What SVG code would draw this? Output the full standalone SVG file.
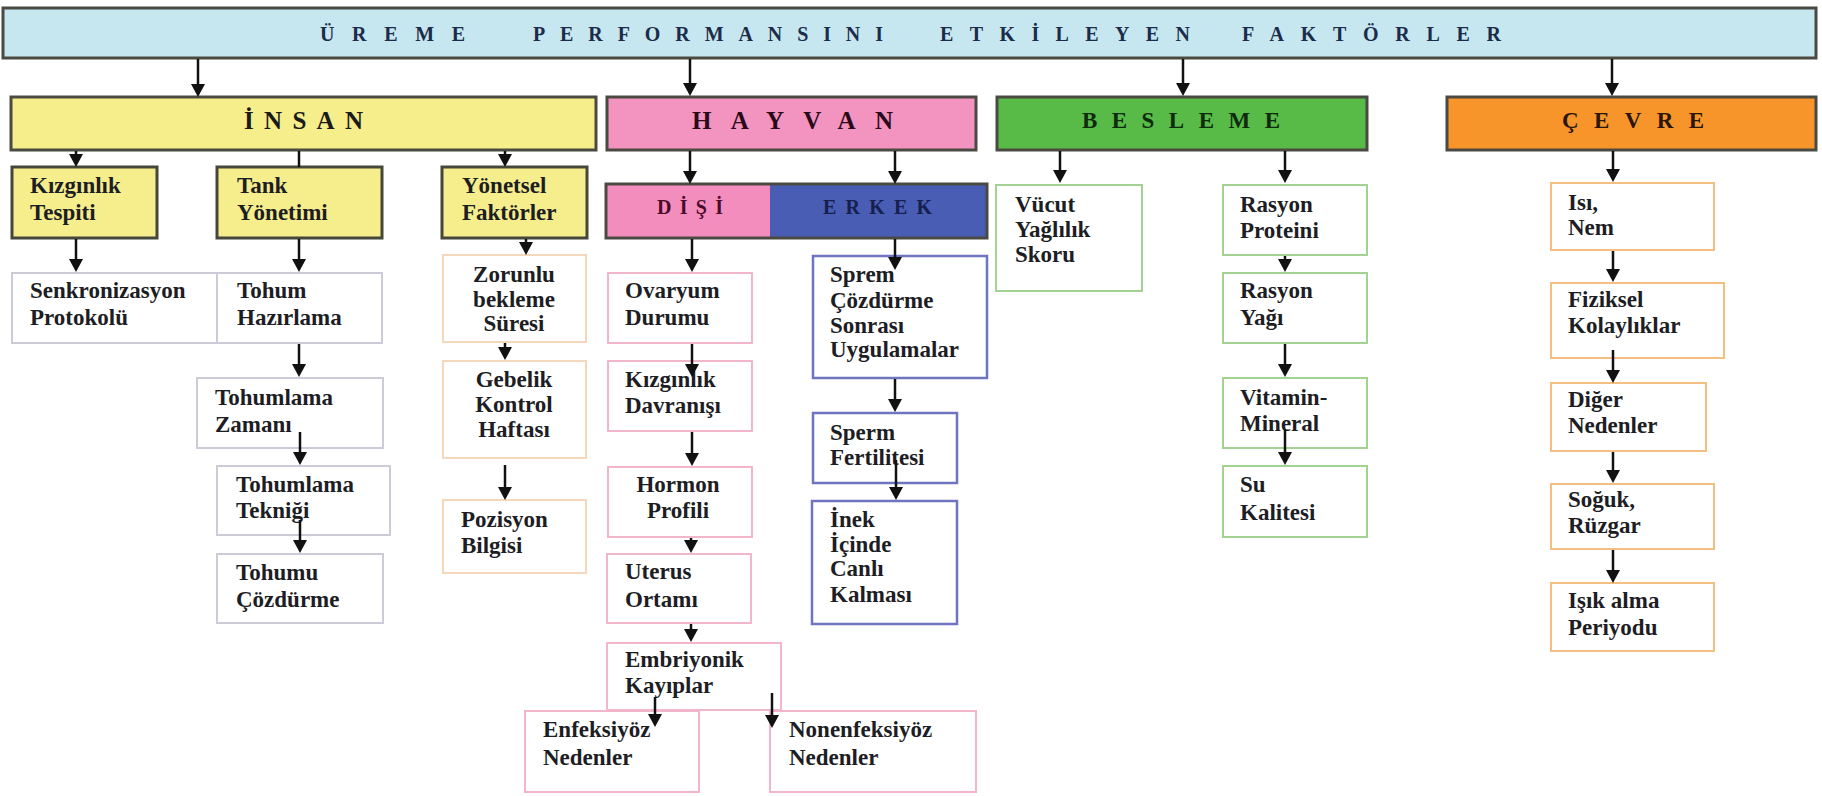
<svg xmlns="http://www.w3.org/2000/svg" width="1822" height="796" viewBox="0 0 1822 796">
<defs>
<marker id="ah" markerUnits="userSpaceOnUse" markerWidth="16" markerHeight="16" refX="9" refY="7" orient="auto">
<path d="M0,0 L13,7 L0,14 z" fill="#111"/>
</marker>
<style>
text{font-family:"Liberation Serif","Times New Roman",serif;font-weight:bold;fill:#1d1d24;}
.t{font-size:23px;}
.hd{font-size:25px;fill:#1a1a1a;}
.tt{font-size:20px;fill:#1c2b4a;}
.head{stroke:#4a4a42;stroke-width:3;}
.sub{fill:#F6EE8C;stroke:#46463a;stroke-width:3;}
.g{fill:#fff;stroke:#CFCAD8;stroke-width:2;}
.p{fill:#fff;stroke:#F5D8BC;stroke-width:2;}
.k{fill:#fff;stroke:#F2B6CA;stroke-width:2;}
.b{fill:#fff;stroke:#6F74BE;stroke-width:2.5;}
.gr{fill:#fff;stroke:#A2D393;stroke-width:2;}
.o{fill:#fff;stroke:#F4BF80;stroke-width:2;}
.c{stroke:#111;stroke-width:2.5;fill:none;}
.ca{stroke:#111;stroke-width:2.5;fill:none;marker-end:url(#ah);}
</style>
</defs>
<rect width="1822" height="796" fill="#fff"/>

<g id="title">
<rect x="3" y="8" width="1813" height="50" fill="#C6E7EF" class="head"/>
<text class="tt" x="320" y="41" textLength="145" lengthAdjust="spacing">ÜREME</text>
<text class="tt" x="533" y="41" textLength="350" lengthAdjust="spacing">PERFORMANSINI</text>
<text class="tt" x="940" y="41" textLength="250" lengthAdjust="spacing">ETKİLEYEN</text>
<text class="tt" x="1242" y="41" textLength="259" lengthAdjust="spacing">FAKTÖRLER</text>
</g>

<g id="insan">
<rect x="11" y="97" width="585" height="53" fill="#F6EE8A" class="head"/>
<text class="hd" x="244" y="129" textLength="119" lengthAdjust="spacing">İNSAN</text>
</g>
<g id="hayvan">
<rect x="607" y="97" width="369" height="53" fill="#F393BF" class="head"/>
<text class="hd" x="692" y="129" textLength="201" lengthAdjust="spacing" style="fill:#2a0a18">HAYVAN</text>
</g>
<g id="besleme">
<rect x="997" y="97" width="370" height="53" fill="#58BA47" class="head"/>
<text class="hd" x="1082" y="128" textLength="198" lengthAdjust="spacing" style="font-size:23px;fill:#0f2a0c">BESLEME</text>
</g>
<g id="cevre">
<rect x="1447" y="97" width="369" height="53" fill="#F7952A" class="head"/>
<text class="hd" x="1562" y="128" textLength="142" lengthAdjust="spacing" style="font-size:23px;fill:#2a1506">ÇEVRE</text>
</g>

<g id="kizginlik-tespiti">
<rect x="12" y="167" width="145" height="71" class="sub"/>
<text class="t" x="30" y="193">Kızgınlık</text><text class="t" x="30" y="220">Tespiti</text>
</g>
<g id="tank-yonetimi">
<rect x="217" y="167" width="165" height="71" class="sub"/>
<text class="t" x="237" y="193">Tank</text><text class="t" x="237" y="220">Yönetimi</text>
</g>
<g id="yonetsel-faktorler">
<rect x="442" y="167" width="145" height="71" class="sub"/>
<text class="t" x="462" y="193">Yönetsel</text><text class="t" x="462" y="220">Faktörler</text>
</g>

<g id="senkronizasyon">
<rect x="12" y="273" width="205" height="70" class="g"/>
<text class="t" x="30" y="298">Senkronizasyon</text><text class="t" x="30" y="325">Protokolü</text>
</g>
<g id="tohum-hazirlama">
<rect x="217" y="273" width="165" height="70" class="g"/>
<text class="t" x="237" y="298">Tohum</text><text class="t" x="237" y="325">Hazırlama</text>
</g>
<g id="tohumlama-zamani">
<rect x="197" y="378" width="186" height="70" class="g"/>
<text class="t" x="215" y="405">Tohumlama</text><text class="t" x="215" y="432">Zamanı</text>
</g>
<g id="tohumlama-teknigi">
<rect x="217" y="466" width="173" height="69" class="g"/>
<text class="t" x="236" y="492">Tohumlama</text><text class="t" x="236" y="518">Tekniği</text>
</g>
<g id="tohumu-cozdurme">
<rect x="217" y="554" width="166" height="69" class="g"/>
<text class="t" x="236" y="580">Tohumu</text><text class="t" x="236" y="607">Çözdürme</text>
</g>

<g id="zorunlu-bekleme">
<rect x="443" y="255" width="143" height="87" class="p"/>
<text class="t" x="514" y="282" text-anchor="middle">Zorunlu</text>
<text class="t" x="514" y="307" text-anchor="middle">bekleme</text>
<text class="t" x="514" y="331" text-anchor="middle">Süresi</text>
</g>
<g id="gebelik-kontrol">
<rect x="443" y="361" width="143" height="97" class="p"/>
<text class="t" x="514" y="387" text-anchor="middle">Gebelik</text>
<text class="t" x="514" y="412" text-anchor="middle">Kontrol</text>
<text class="t" x="514" y="437" text-anchor="middle">Haftası</text>
</g>
<g id="pozisyon-bilgisi">
<rect x="443" y="500" width="143" height="73" class="p"/>
<text class="t" x="461" y="527">Pozisyon</text><text class="t" x="461" y="553">Bilgisi</text>
</g>

<g id="disi">
<rect x="606" y="184" width="164" height="54" fill="#F38DBE"/>
<text x="690" y="214" text-anchor="middle" textLength="66" lengthAdjust="spacing" style="font-size:20px;fill:#4a0c28">DİŞİ</text>
</g>
<g id="erkek">
<rect x="770" y="184" width="217" height="54" fill="#4A5DB5"/>
<text x="823" y="214" textLength="109" lengthAdjust="spacing" style="font-size:20px;fill:#15204d">ERKEK</text>
</g>
<rect x="606" y="184" width="381" height="54" fill="none" class="head"/>

<g id="ovaryum-durumu">
<rect x="608" y="273" width="144" height="70" class="k"/>
<text class="t" x="625" y="298">Ovaryum</text><text class="t" x="625" y="325">Durumu</text>
</g>
<g id="kizginlik-davranisi">
<rect x="608" y="361" width="144" height="70" class="k"/>
<text class="t" x="625" y="387">Kızgınlık</text><text class="t" x="625" y="413">Davranışı</text>
</g>
<g id="hormon-profili">
<rect x="608" y="467" width="144" height="70" class="k"/>
<text class="t" x="678" y="492" text-anchor="middle">Hormon</text><text class="t" x="678" y="518" text-anchor="middle">Profili</text>
</g>
<g id="uterus-ortami">
<rect x="607" y="554" width="144" height="69" class="k"/>
<text class="t" x="625" y="579">Uterus</text><text class="t" x="625" y="607">Ortamı</text>
</g>
<g id="embriyonik-kayiplar">
<rect x="607" y="643" width="174" height="67" class="k"/>
<text class="t" x="625" y="667">Embriyonik</text><text class="t" x="625" y="693">Kayıplar</text>
</g>
<g id="enfeksiyoz-nedenler">
<rect x="525" y="711" width="174" height="81" class="k"/>
<text class="t" x="543" y="737">Enfeksiyöz</text><text class="t" x="543" y="765">Nedenler</text>
</g>
<g id="nonenfeksiyoz-nedenler">
<rect x="770" y="711" width="206" height="81" class="k"/>
<text class="t" x="789" y="737">Nonenfeksiyöz</text><text class="t" x="789" y="765">Nedenler</text>
</g>

<g id="sprem-cozdurme">
<rect x="813" y="256" width="174" height="122" class="b"/>
<text class="t" x="830" y="282">Sprem</text><text class="t" x="830" y="308">Çözdürme</text>
<text class="t" x="830" y="333">Sonrası</text><text class="t" x="830" y="357">Uygulamalar</text>
</g>
<g id="sperm-fertilitesi">
<rect x="813" y="413" width="144" height="70" class="b"/>
<text class="t" x="830" y="440">Sperm</text><text class="t" x="830" y="465">Fertilitesi</text>
</g>
<g id="inek-icinde">
<rect x="812" y="501" width="145" height="123" class="b"/>
<text class="t" x="830" y="527">İnek</text><text class="t" x="830" y="552">İçinde</text>
<text class="t" x="830" y="576">Canlı</text><text class="t" x="830" y="602">Kalması</text>
</g>

<g id="vucut-yaglilik">
<rect x="996" y="185" width="146" height="106" class="gr"/>
<text class="t" x="1015" y="212">Vücut</text><text class="t" x="1015" y="237">Yağlılık</text><text class="t" x="1015" y="262">Skoru</text>
</g>
<g id="rasyon-proteini">
<rect x="1223" y="185" width="144" height="70" class="gr"/>
<text class="t" x="1240" y="212">Rasyon</text><text class="t" x="1240" y="238">Proteini</text>
</g>
<g id="rasyon-yagi">
<rect x="1223" y="273" width="144" height="70" class="gr"/>
<text class="t" x="1240" y="298">Rasyon</text><text class="t" x="1240" y="325">Yağı</text>
</g>
<g id="vitamin-mineral">
<rect x="1223" y="378" width="144" height="70" class="gr"/>
<text class="t" x="1240" y="405">Vitamin-</text><text class="t" x="1240" y="431">Mineral</text>
</g>
<g id="su-kalitesi">
<rect x="1223" y="466" width="144" height="71" class="gr"/>
<text class="t" x="1240" y="492">Su</text><text class="t" x="1240" y="520">Kalitesi</text>
</g>

<g id="isi-nem">
<rect x="1551" y="183" width="163" height="67" class="o"/>
<text class="t" x="1568" y="210">Isı,</text><text class="t" x="1568" y="235">Nem</text>
</g>
<g id="fiziksel-kolayliklar">
<rect x="1551" y="283" width="173" height="75" class="o"/>
<text class="t" x="1568" y="307">Fiziksel</text><text class="t" x="1568" y="333">Kolaylıklar</text>
</g>
<g id="diger-nedenler">
<rect x="1551" y="383" width="155" height="68" class="o"/>
<text class="t" x="1568" y="407">Diğer</text><text class="t" x="1568" y="433">Nedenler</text>
</g>
<g id="soguk-ruzgar">
<rect x="1551" y="484" width="163" height="65" class="o"/>
<text class="t" x="1568" y="507">Soğuk,</text><text class="t" x="1568" y="533">Rüzgar</text>
</g>
<g id="isik-alma">
<rect x="1551" y="583" width="163" height="68" class="o"/>
<text class="t" x="1568" y="608">Işık alma</text><text class="t" x="1568" y="635">Periyodu</text>
</g>

<g id="connectors">
<path class="ca" d="M198,59 V93"/>
<path class="ca" d="M690,59 V92"/>
<path class="ca" d="M1183,59 V92"/>
<path class="ca" d="M1612,59 V92"/>
<path class="ca" d="M76,151 V163"/>
<path class="c" d="M299,151 V167"/>
<path class="ca" d="M505,151 V163"/>
<path class="ca" d="M76,239 V268"/>
<path class="ca" d="M299,239 V268"/>
<path class="ca" d="M526,239 V251"/>
<path class="ca" d="M505,343 V356"/>
<path class="ca" d="M505,465 V496"/>
<path class="ca" d="M299,344 V373"/>
<path class="ca" d="M300,432 V461"/>
<path class="ca" d="M300,520 V549"/>
<path class="ca" d="M690,151 V180"/>
<path class="ca" d="M895,151 V180"/>
<path class="ca" d="M692,239 V268"/>
<path class="ca" d="M692,344 V373"/>
<path class="ca" d="M692,432 V462"/>
<path class="ca" d="M691,538 V549"/>
<path class="ca" d="M691,624 V638"/>
<path class="ca" d="M655,697 V723"/>
<path class="ca" d="M772,693 V724"/>
<path class="ca" d="M895,239 V266"/>
<path class="ca" d="M895,379 V408"/>
<path class="ca" d="M896,460 V496"/>
<path class="ca" d="M1060,151 V179"/>
<path class="ca" d="M1285,151 V179"/>
<path class="ca" d="M1285,256 V268"/>
<path class="ca" d="M1285,344 V373"/>
<path class="ca" d="M1285,430 V461"/>
<path class="ca" d="M1613,151 V178"/>
<path class="ca" d="M1613,251 V278"/>
<path class="ca" d="M1613,350 V379"/>
<path class="ca" d="M1613,452 V479"/>
<path class="ca" d="M1613,550 V579"/>
</g>
</svg>
